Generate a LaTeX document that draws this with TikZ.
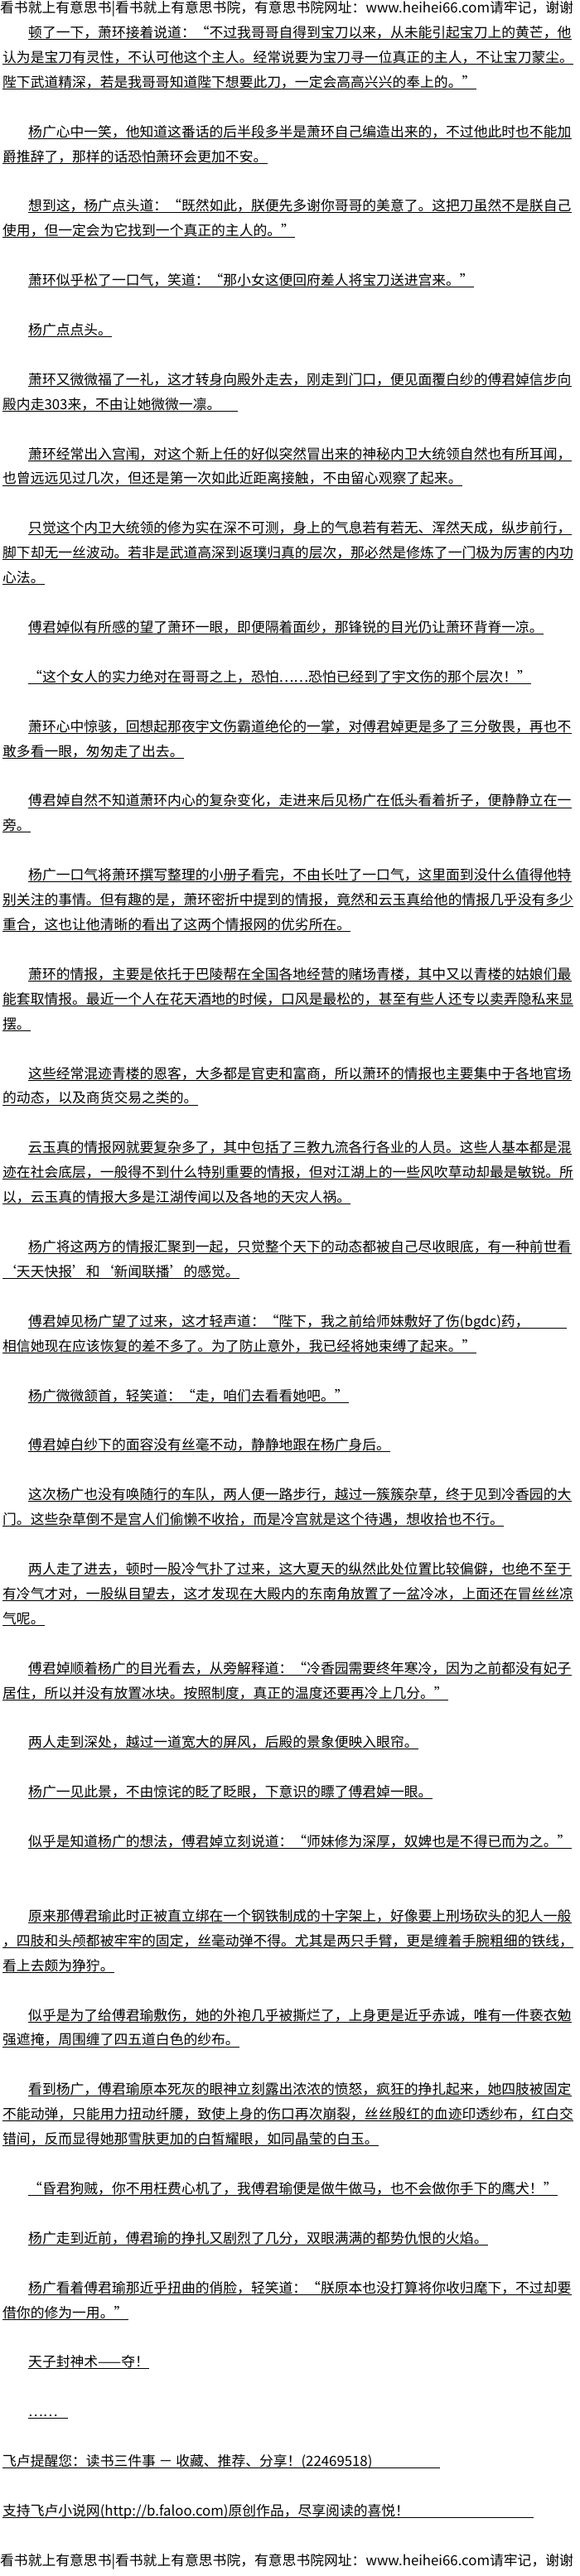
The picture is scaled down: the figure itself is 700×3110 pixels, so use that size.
\documentclass[tikz,border=0pt]{standalone}
\usepackage{fontspec}
\newfontfamily\cjk{Noto Sans CJK SC}
\usepackage{tikz}

\begin{document}
\begin{tikzpicture}[x=1pt, y=-29.92pt,
	row/.style={anchor=base west, inner sep=0pt, yshift=-15.5pt, font=\cjk\fontsize{16.8}{16.8}\selectfont},
	ul/.style={line width=0.9pt}]
	\useasboundingbox (0pt,0pt) rectangle (700pt,-3110pt);
	\fill[white] (0pt,0pt) rectangle (700pt,-3110pt);

	\node[row] (L0) at (0,0) {看书就上有意思书|看书就上有意思书院，有意思书院网址：www.heihei66.com请牢记，谢谢};	% Header

	\node[row] (L1) at (34,1) {顿了一下，萧环接着说道：“不过我哥哥自得到宝刀以来，从未能引起宝刀上的黄芒，他};
	\node[row] (L2) at (3,2) {认为是宝刀有灵性，不认可他这个主人。经常说要为宝刀寻一位真正的主人，不让宝刀蒙尘。};
	\node[row] (L3) at (3,3) {陛下武道精深，若是我哥哥知道陛下想要此刀，一定会高高兴兴的奉上的。”};
	\node[row] (L5) at (34,5) {杨广心中一笑，他知道这番话的后半段多半是萧环自己编造出来的，不过他此时也不能加};
	\node[row] (L6) at (3,6) {爵推辞了，那样的话恐怕萧环会更加不安。};
	\node[row] (L8) at (34,8) {想到这，杨广点头道：“既然如此，朕便先多谢你哥哥的美意了。这把刀虽然不是朕自己};
	\node[row] (L9) at (3,9) {使用，但一定会为它找到一个真正的主人的。”};
	\node[row] (L11) at (34,11) {萧环似乎松了一口气，笑道：“那小女这便回府差人将宝刀送进宫来。”};
	\node[row] (L13) at (34,13) {杨广点点头。};
	\node[row] (L15) at (34,15) {萧环又微微福了一礼，这才转身向殿外走去，刚走到门口，便见面覆白纱的傅君婥信步向};
	\node[row] (L16) at (3,16) {殿内走303来，不由让她微微一凛。};
	\node[row] (L18) at (34,18) {萧环经常出入宫闱，对这个新上任的好似突然冒出来的神秘内卫大统领自然也有所耳闻，};
	\node[row] (L19) at (3,19) {也曾远远见过几次，但还是第一次如此近距离接触，不由留心观察了起来。};
	\node[row] (L21) at (34,21) {只觉这个内卫大统领的修为实在深不可测，身上的气息若有若无、浑然天成，纵步前行，};
	\node[row] (L22) at (3,22) {脚下却无一丝波动。若非是武道高深到返璞归真的层次，那必然是修炼了一门极为厉害的内功};
	\node[row] (L23) at (3,23) {心法。};
	\node[row] (L25) at (34,25) {傅君婥似有所感的望了萧环一眼，即便隔着面纱，那锋锐的目光仍让萧环背脊一凉。};
	\node[row] (L27) at (34,27) {“这个女人的实力绝对在哥哥之上，恐怕……恐怕已经到了宇文伤的那个层次！”};
	\node[row] (L29) at (34,29) {萧环心中惊骇，回想起那夜宇文伤霸道绝伦的一掌，对傅君婥更是多了三分敬畏，再也不};
	\node[row] (L30) at (3,30) {敢多看一眼，匆匆走了出去。};
	\node[row] (L32) at (34,32) {傅君婥自然不知道萧环内心的复杂变化，走进来后见杨广在低头看着折子，便静静立在一};
	\node[row] (L33) at (3,33) {旁。};
	\node[row] (L35) at (34,35) {杨广一口气将萧环撰写整理的小册子看完，不由长吐了一口气，这里面到没什么值得他特};
	\node[row] (L36) at (3,36) {别关注的事情。但有趣的是，萧环密折中提到的情报，竟然和云玉真给他的情报几乎没有多少};
	\node[row] (L37) at (3,37) {重合，这也让他清晰的看出了这两个情报网的优劣所在。};
	\node[row] (L39) at (34,39) {萧环的情报，主要是依托于巴陵帮在全国各地经营的赌场青楼，其中又以青楼的姑娘们最};
	\node[row] (L40) at (3,40) {能套取情报。最近一个人在花天酒地的时候，口风是最松的，甚至有些人还专以卖弄隐私来显};
	\node[row] (L41) at (3,41) {摆。};
	\node[row] (L43) at (34,43) {这些经常混迹青楼的恩客，大多都是官吏和富商，所以萧环的情报也主要集中于各地官场};
	\node[row] (L44) at (3,44) {的动态，以及商货交易之类的。};
	\node[row] (L46) at (34,46) {云玉真的情报网就要复杂多了，其中包括了三教九流各行各业的人员。这些人基本都是混};
	\node[row] (L47) at (3,47) {迹在社会底层，一般得不到什么特别重要的情报，但对江湖上的一些风吹草动却最是敏锐。所};
	\node[row] (L48) at (3,48) {以，云玉真的情报大多是江湖传闻以及各地的天灾人祸。};
	\node[row] (L50) at (34,50) {杨广将这两方的情报汇聚到一起，只觉整个天下的动态都被自己尽收眼底，有一种前世看};
	\node[row] (L51) at (3,51) {‘天天快报’和‘新闻联播’的感觉。};
	\node[row] (L53) at (34,53) {傅君婥见杨广望了过来，这才轻声道：“陛下，我之前给师妹敷好了伤(bgdc)药，};
	\node[row] (L54) at (3,54) {相信她现在应该恢复的差不多了。为了防止意外，我已经将她束缚了起来。”};
	\node[row] (L56) at (34,56) {杨广微微颔首，轻笑道：“走，咱们去看看她吧。”};
	\node[row] (L58) at (34,58) {傅君婥白纱下的面容没有丝毫不动，静静地跟在杨广身后。};
	\node[row] (L60) at (34,60) {这次杨广也没有唤随行的车队，两人便一路步行，越过一簇簇杂草，终于见到冷香园的大};
	\node[row] (L61) at (3,61) {门。这些杂草倒不是宫人们偷懒不收拾，而是冷宫就是这个待遇，想收拾也不行。};
	\node[row] (L63) at (34,63) {两人走了进去，顿时一股冷气扑了过来，这大夏天的纵然此处位置比较偏僻，也绝不至于};
	\node[row] (L64) at (3,64) {有冷气才对，一股纵目望去，这才发现在大殿内的东南角放置了一盆冷冰，上面还在冒丝丝凉};
	\node[row] (L65) at (3,65) {气呢。};
	\node[row] (L67) at (34,67) {傅君婥顺着杨广的目光看去，从旁解释道：“冷香园需要终年寒冷，因为之前都没有妃子};
	\node[row] (L68) at (3,68) {居住，所以并没有放置冰块。按照制度，真正的温度还要再冷上几分。”};
	\node[row] (L70) at (34,70) {两人走到深处，越过一道宽大的屏风，后殿的景象便映入眼帘。};
	\node[row] (L72) at (34,72) {杨广一见此景，不由惊诧的眨了眨眼，下意识的瞟了傅君婥一眼。};
	\node[row] (L74) at (34,74) {似乎是知道杨广的想法，傅君婥立刻说道：“师妹修为深厚，奴婢也是不得已而为之。”};
	\node[row] (L77) at (34,77) {原来那傅君瑜此时正被直立绑在一个钢铁制成的十字架上，好像要上刑场砍头的犯人一般};
	\node[row] (L78) at (3,78) {，四肢和头颅都被牢牢的固定，丝毫动弹不得。尤其是两只手臂，更是缠着手腕粗细的铁线，};
	\node[row] (L79) at (3,79) {看上去颇为狰狞。};
	\node[row] (L81) at (34,81) {似乎是为了给傅君瑜敷伤，她的外袍几乎被撕烂了，上身更是近乎赤诚，唯有一件亵衣勉};
	\node[row] (L82) at (3,82) {强遮掩，周围缠了四五道白色的纱布。};
	\node[row] (L84) at (34,84) {看到杨广，傅君瑜原本死灰的眼神立刻露出浓浓的愤怒，疯狂的挣扎起来，她四肢被固定};
	\node[row] (L85) at (3,85) {不能动弹，只能用力扭动纤腰，致使上身的伤口再次崩裂，丝丝殷红的血迹印透纱布，红白交};
	\node[row] (L86) at (3,86) {错间，反而显得她那雪肤更加的白皙耀眼，如同晶莹的白玉。};
	\node[row] (L88) at (34,88) {“昏君狗贼，你不用枉费心机了，我傅君瑜便是做牛做马，也不会做你手下的鹰犬！”};
	\node[row] (L90) at (34,90) {杨广走到近前，傅君瑜的挣扎又剧烈了几分，双眼满满的都势仇恨的火焰。};
	\node[row] (L92) at (34,92) {杨广看着傅君瑜那近乎扭曲的俏脸，轻笑道：“朕原本也没打算将你收归麾下，不过却要};
	\node[row] (L93) at (3,93) {借你的修为一用。”};
	\node[row] (L95) at (34,95) {天子封神术——夺！};
	\node[row] (L97) at (34,97) {……};

	\node[row] (L99) at (3,99) {飞卢提醒您：读书三件事 － 收藏、推荐、分享！(22469518)};	% Footer
	\node[row] (L101) at (3,101) {支持飞卢小说网(http://b.faloo.com)原创作品，尽享阅读的喜悦！};
	\node[row] (L103) at (0,103) {看书就上有意思书|看书就上有意思书院，有意思书院网址：www.heihei66.com请牢记，谢谢};

	\coordinate (E99) at (531,99);
	\coordinate (E101) at (644,101);

	% Underlines
	\foreach \n in {1,2,3,5,6,8,9,11,13,15,18,19,21,22,23,25,27,29,30,32,33,35,36,37,39,40,41,43,44,46,47,48,50,51,54,56,58,60,61,63,64,65,67,68,70,72,74,77,78,79,81,82,84,85,86,88,90,92,93,95}
		\draw[ul] ([yshift=-2pt]L\n.base west) -- ([yshift=-2pt]L\n.base east);
	\draw[ul] ([yshift=-2pt]L16.base west) -- ([yshift=-2pt,xshift=20pt]L16.base east);
	\draw[ul] ([yshift=-2pt]L53.base west) -- ([yshift=-2pt,xshift=45pt]L53.base east);
	\draw[ul] ([yshift=-2pt]L97.base west) -- ([yshift=-2pt,xshift=12pt]L97.base east);
	\draw[ul] ([yshift=-2pt]L99.base west) -- ([yshift=-2pt]L99.base west -| E99);
	\draw[ul] ([yshift=-2pt]L101.base west) -- ([yshift=-2pt]L101.base west -| E101);
\end{tikzpicture}
\end{document}
